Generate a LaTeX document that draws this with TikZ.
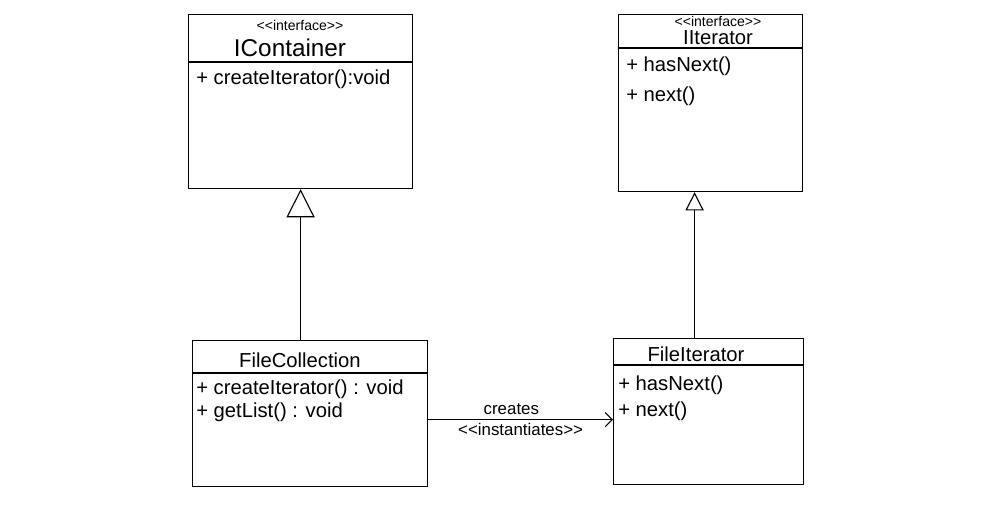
\documentclass[tikz,border=0pt]{standalone}
\usepackage{fontspec}
\setmainfont{Liberation Sans}
\usetikzlibrary{arrows.meta}
\tikzset{
  classbox/.style={draw,thick,rectangle,anchor=north west,inner sep=0pt},
  stereo/.style={font=\small},
  cname/.style={font=\Large},
  member/.style={anchor=west,font=\Large,inner sep=0pt},
  inherit/.style={thick,-{Triangle[open,length=#1,width=#1]}},
  creates/.style={thick,-{Straight Barb[length=5pt,width=10pt]}}
}
\newcommand{\stype}[1]{{<}{<}#1{>}{>}}
\begin{document}
\begin{tikzpicture}[x=0.025cm,y=-0.025cm]
  \useasboundingbox (0,0) rectangle (1004,524);
  % interfaces
  \node[classbox,minimum width=5.6cm,minimum height=4.35cm] (icont) at (188,14) {};
  \draw[thick] ([yshift=-1.2cm]icont.north west) -- ([yshift=-1.2cm]icont.north east);
  \node[stereo,font=\normalsize] (icontst) at (300,25) {\stype{interface}};
  \node[cname,font=\LARGE] (icontnm) at (290,48) {IContainer};
  \node[member] (icontm) at (196,79) {+ createIterator():void};
  \node[classbox,minimum width=4.6cm,minimum height=4.425cm] (iiter) at (618,14) {};
  \draw[thick] ([yshift=-0.85cm]iiter.north west) -- ([yshift=-0.85cm]iiter.north east);
  \node[stereo,font=\normalsize] (iiterst) at (718,21) {\stype{interface}};
  \node[cname] (iiternm) at (718,38) {IIterator};
  \foreach \n/\y/\t in {a/66/hasNext(),b/96/next()} \node[member] (iiter\n) at (626,\y) {+ \t};
  % classes
  \node[classbox,minimum width=5.875cm,minimum height=3.65cm] (fcoll) at (192,340) {};
  \draw[thick] ([yshift=-0.825cm]fcoll.north west) -- ([yshift=-0.825cm]fcoll.north east);
  \node[cname] (fcollnm) at (300,360) {FileCollection};
  \foreach \n/\y/\t in {a/389/createIterator() : void,b/412/getList() : void} \node[member] (fcoll\n) at (196,\y) {+ \t};
  \node[classbox,minimum width=4.75cm,minimum height=3.65cm] (fiter) at (613,338) {};
  \draw[thick] ([yshift=-0.675cm]fiter.north west) -- ([yshift=-0.675cm]fiter.north east);
  \node[cname] (fiternm) at (696,354) {FileIterator};
  \foreach \n/\y/\t in {a/385/hasNext(),b/411/next()} \node[member] (fiter\n) at (618,\y) {+ \t};
  % relations
  \draw[inherit=20pt] (fcoll.north -| icont.south) -- (icont.south);
  \draw[inherit=13pt] ([xshift=-0.4cm]fiter.north -| iiter.south) -- ([xshift=-0.4cm]iiter.south);
  \draw[creates] ([yshift=-0.15cm]fcoll.east) -- ([yshift=-0.15cm]fcoll.east -| fiter.west)
    node[pos=0.45,above=0pt,font=\large] {creates}
    node[pos=0.5,below=-1pt,font=\large] {\stype{instantiates}};
\end{tikzpicture}
\end{document}
